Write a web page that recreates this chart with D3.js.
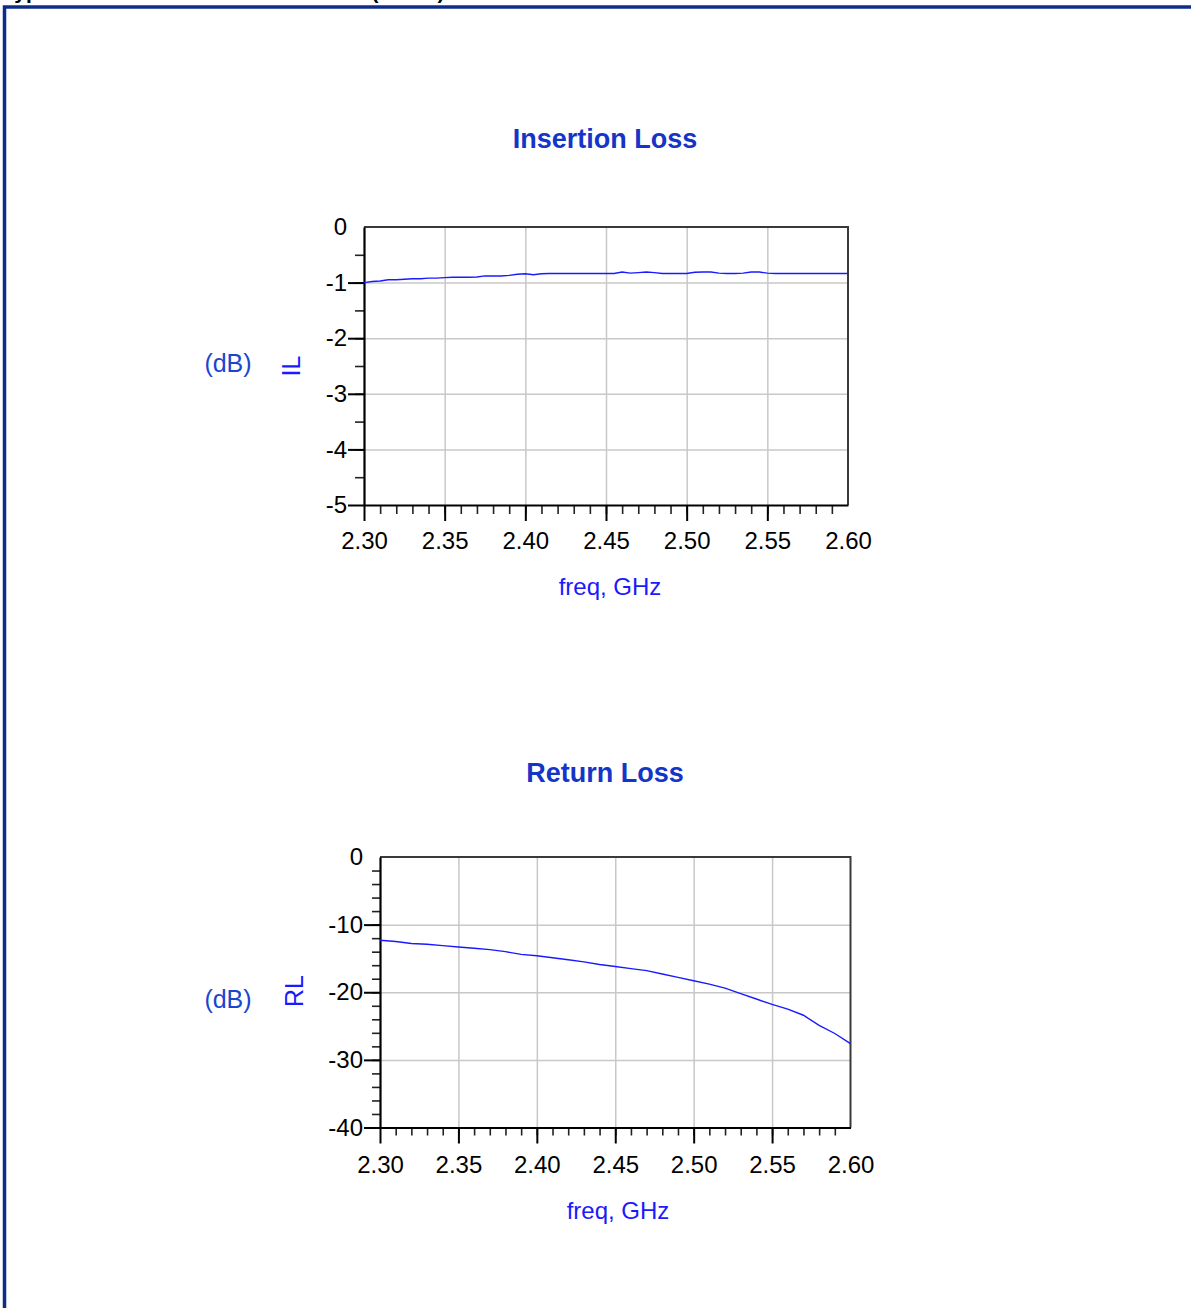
<!DOCTYPE html>
<html>
<head>
<meta charset="utf-8">
<script src="https://cdn.jsdelivr.net/npm/d3@7"></script>
<style>
  body { margin: 0; background: #fff; }
  text { font-family: "Liberation Sans", Arial, sans-serif; }
</style>
</head>
<body>
<div id="chart"></div>
<script>
// frequency points (GHz)
var ilFreq = [2.300, 2.305, 2.310, 2.315, 2.320, 2.325, 2.330, 2.335, 2.340, 2.345,
              2.350, 2.355, 2.360, 2.365, 2.370, 2.375, 2.380, 2.385, 2.390, 2.395,
              2.400, 2.405, 2.410, 2.415, 2.420, 2.425, 2.430, 2.435, 2.440, 2.445,
              2.450, 2.455, 2.460, 2.465, 2.470, 2.475, 2.480, 2.485, 2.490, 2.495,
              2.500, 2.505, 2.510, 2.515, 2.520, 2.525, 2.530, 2.535, 2.540, 2.545,
              2.550, 2.555, 2.560, 2.565, 2.570, 2.575, 2.580, 2.585, 2.590, 2.595, 2.600];
// insertion loss (dB)
var ilValues = [-1.00, -0.98, -0.97, -0.95, -0.95, -0.94, -0.93, -0.93, -0.92, -0.92,
                -0.91, -0.905, -0.905, -0.905, -0.90, -0.88, -0.88, -0.88, -0.87, -0.85,
                -0.84, -0.86, -0.84, -0.835, -0.835, -0.835, -0.835, -0.835, -0.835, -0.835,
                -0.835, -0.835, -0.81, -0.83, -0.82, -0.81, -0.82, -0.835, -0.835, -0.835,
                -0.835, -0.815, -0.81, -0.81, -0.83, -0.835, -0.835, -0.83, -0.81, -0.81,
                -0.83, -0.835, -0.835, -0.835, -0.835, -0.835, -0.835, -0.835, -0.835, -0.835, -0.835];

var rlFreq = [2.30, 2.31, 2.32, 2.33, 2.34, 2.35, 2.36, 2.37, 2.38, 2.39,
              2.40, 2.41, 2.42, 2.43, 2.44, 2.45, 2.46, 2.47, 2.48, 2.49,
              2.50, 2.51, 2.52, 2.53, 2.54, 2.55, 2.56, 2.57, 2.58, 2.59, 2.60];
// return loss (dB)
var rlValues = [-12.3, -12.5, -12.8, -12.9, -13.1, -13.3, -13.5, -13.7, -14.0, -14.4,
                -14.6, -14.9, -15.2, -15.5, -15.9, -16.2, -16.5, -16.8, -17.3, -17.8,
                -18.3, -18.8, -19.4, -20.2, -21.0, -21.8, -22.5, -23.4, -24.9, -26.1, -27.6];

var freqTicks = [2.30, 2.35, 2.40, 2.45, 2.50, 2.55, 2.60];
var ilTicks = [0, -1, -2, -3, -4, -5];
var rlTicks = [0, -10, -20, -30, -40];

var W = 1191, H = 1308;
var svg = d3.select("#chart").append("svg")
    .attr("width", W)
    .attr("height", H);

// cut-off page heading
svg.append("text")
    .attr("x", 3)
    .attr("y", -1.5)
    .attr("font-size", 21)
    .attr("font-weight", "bold")
    .attr("fill", "#000")
    .text("Typical Performance Characteristics (+25°C)");

// page frame
svg.append("path")
    .attr("d", "M4.5," + H + " L4.5,7 L" + W + ",7")
    .attr("fill", "none")
    .attr("stroke", "#0f2c8a")
    .attr("stroke-width", 3.5);

function range(a, b, step) {
    var out = [];
    for (var v = a; v <= b + step / 2; v += step) out.push(+v.toFixed(4));
    return out;
}

function drawPlot(cfg) {
    var x = d3.scaleLinear().domain([2.30, 2.60]).range([cfg.left, cfg.right]);
    var y = d3.scaleLinear().domain(cfg.yDomain).range([cfg.bottom, cfg.top]);
    var g = svg.append("g");

    // grid
    g.append("g")
        .attr("transform", "translate(0," + cfg.bottom + ")")
        .call(d3.axisBottom(x).tickValues(freqTicks.slice(1, -1)).tickSize(-(cfg.bottom - cfg.top)).tickFormat(""))
        .call(function (s) { s.select(".domain").remove(); })
        .selectAll("line").attr("stroke", "#c8c8c8").attr("stroke-width", 1.5);
    g.append("g")
        .attr("transform", "translate(" + cfg.left + ",0)")
        .call(d3.axisLeft(y).tickValues(cfg.yTicks.slice(1, -1)).tickSize(-(cfg.right - cfg.left)).tickFormat(""))
        .call(function (s) { s.select(".domain").remove(); })
        .selectAll("line").attr("stroke", "#c8c8c8").attr("stroke-width", 1.5);

    // top and right frame
    g.append("path")
        .attr("d", "M" + cfg.left + "," + cfg.top + " L" + cfg.right + "," + cfg.top + " L" + cfg.right + "," + cfg.bottom)
        .attr("fill", "none")
        .attr("stroke", "#3a3a3a")
        .attr("stroke-width", 2);

    // minor ticks (none at the far ends)
    g.append("g")
        .attr("transform", "translate(0," + cfg.bottom + ")")
        .call(d3.axisBottom(x).tickValues(range(2.30, 2.60, 0.01).slice(1, -1)).tickSize(cfg.minorLen).tickFormat(""))
        .call(function (s) { s.select(".domain").remove(); })
        .selectAll("line").attr("stroke", "#222").attr("stroke-width", 1.6);
    g.append("g")
        .attr("transform", "translate(" + cfg.left + ",0)")
        .call(d3.axisLeft(y).tickValues(range(cfg.yDomain[0], cfg.yDomain[1], cfg.yMinor).slice(1, -1)).tickSize(cfg.minorLen).tickFormat(""))
        .call(function (s) { s.select(".domain").remove(); })
        .selectAll("line").attr("stroke", "#222").attr("stroke-width", 1.6);

    // major axes
    var xAxis = g.append("g")
        .attr("transform", "translate(0," + cfg.bottom + ")")
        .call(d3.axisBottom(x).tickValues(freqTicks).tickSize(cfg.majorLen).tickSizeOuter(0)
            .tickPadding(cfg.xPad).tickFormat(d3.format(".2f")));
    var yAxis = g.append("g")
        .attr("transform", "translate(" + cfg.left + ",0)")
        .call(d3.axisLeft(y).tickValues(cfg.yTicks).tickSize(cfg.majorLen).tickSizeOuter(0)
            .tickPadding(1).tickFormat(function (d) { return d === 0 ? "0" : "-" + Math.abs(d); }));
    // no tick mark at the top-left and bottom-right ends, only the label
    xAxis.selectAll(".tick").filter(function (d) { return d === 2.60; }).select("line").remove();
    yAxis.selectAll(".tick").filter(function (d) { return d === 0; }).select("line").remove();
    [xAxis, yAxis].forEach(function (a) {
        a.select(".domain").attr("stroke", "#000").attr("stroke-width", 2.2);
        a.selectAll(".tick line").attr("stroke", "#000").attr("stroke-width", 2);
        a.selectAll(".tick text")
            .attr("fill", "#000")
            .style("font-family", "'Liberation Sans', Arial, sans-serif")
            .style("font-size", "24px");
    });

    // curve
    var line = d3.line()
        .x(function (d) { return x(d[0]); })
        .y(function (d) { return y(d[1]); });
    g.append("path")
        .datum(d3.zip(cfg.freq, cfg.values))
        .attr("d", line)
        .attr("fill", "none")
        .attr("stroke", "#1a1aff")
        .attr("stroke-width", 1.4);

    // titles and labels
    g.append("text")
        .attr("x", 605)
        .attr("y", cfg.titleY)
        .attr("text-anchor", "middle")
        .attr("font-size", 27)
        .attr("font-weight", "bold")
        .attr("fill", "#1535c8")
        .text(cfg.title);
    g.append("text")
        .attr("x", cfg.xLabelX)
        .attr("y", cfg.xLabelY)
        .attr("text-anchor", "middle")
        .attr("font-size", 24)
        .attr("fill", "#1a1aff")
        .text("freq, GHz");
    g.append("text")
        .attr("x", 228)
        .attr("y", cfg.dbY)
        .attr("text-anchor", "middle")
        .attr("font-size", 25)
        .attr("fill", "#1a45d0")
        .text("(dB)");
    g.append("text")
        .attr("transform", "translate(" + cfg.nameX + "," + cfg.nameY + ") rotate(-90)")
        .attr("text-anchor", "middle")
        .attr("font-size", 25)
        .attr("fill", "#1a1aff")
        .text(cfg.name);
}

drawPlot({
    title: "Insertion Loss", titleY: 147.5, name: "IL",
    freq: ilFreq, values: ilValues,
    left: 364, right: 848, top: 227, bottom: 505,
    yDomain: [-5, 0], yTicks: ilTicks, yMinor: 0.5,
    majorLen: 16, minorLen: 9, xPad: 11,
    xLabelX: 610, xLabelY: 595, dbY: 372, nameX: 300, nameY: 366
});

drawPlot({
    title: "Return Loss", titleY: 782, name: "RL",
    freq: rlFreq, values: rlValues,
    left: 380, right: 850.5, top: 857, bottom: 1127.5,
    yDomain: [-40, 0], yTicks: rlTicks, yMinor: 2,
    majorLen: 16, minorLen: 8, xPad: 12,
    xLabelX: 618, xLabelY: 1219, dbY: 1008, nameX: 303, nameY: 991
});
</script>
</body>
</html>
